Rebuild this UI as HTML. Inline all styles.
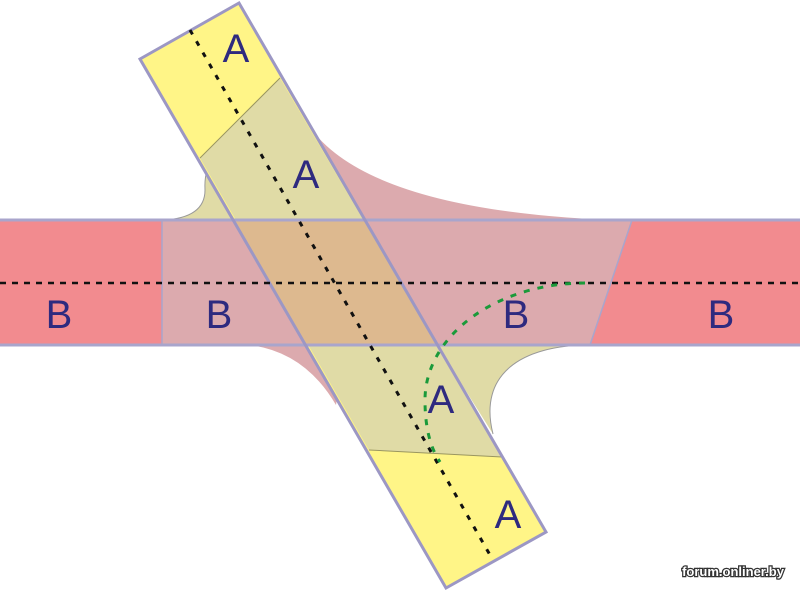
<!DOCTYPE html>
<html><head><style>body{margin:0;background:#fff}svg{display:block}</style></head><body>
<svg width="800" height="592" viewBox="0 0 800 592" xmlns="http://www.w3.org/2000/svg">
<defs>
<clipPath id="a"><polygon points="140,59 239,3 546,532 446,588"/></clipPath>
</defs>
<rect x="0" y="220" width="800" height="125" fill="#f28b8f"/>
<polygon points="162,220 632,220 590,345 162,345" fill="#dcaaae"/>
<path d="M298,104 Q340,212 632,220 L330,220 Z" fill="#dcaaae"/>
<path d="M250,345 Q305,352 336,405 L345,345 Z" fill="#dcaaae"/>
<path d="M163,220 Q205,218 205,190 Q204,172 212,158 L235,220 Z" fill="#e0dba6"/>
<path d="M437,345 L590,345 C520,345 478,375 493,434 Z" fill="#e0dba6"/>
<path d="M298,104 Q340,212 632,220" fill="none" stroke="#fff" stroke-width="1.5"/>
<path d="M163,220 Q205,218 205,190 Q204,172 212,158" fill="none" stroke="#999" stroke-width="1"/>
<path d="M590,345 C520,345 478,375 493,434" fill="none" stroke="#999" stroke-width="1"/>
<polygon points="140,59 239,3 546,532 446,588" fill="#fff587"/>
<polygon points="200,158 280,78 502,457 369,450" fill="#e0dba6" clip-path="url(#a)"/>
<polygon points="162,220 632,220 590,345 162,345" fill="#ddb98f" clip-path="url(#a)"/>
<line x1="200" y1="158" x2="280" y2="78" stroke="#9a9660" stroke-width="1"/>
<line x1="369" y1="450" x2="502" y2="457" stroke="#9a9660" stroke-width="1"/>
<line x1="0" y1="220" x2="800" y2="220" stroke="#a9a5cc" stroke-width="3"/>
<line x1="0" y1="345" x2="800" y2="345" stroke="#a9a5cc" stroke-width="3"/>
<line x1="162" y1="220" x2="162" y2="345" stroke="#a9a5cc" stroke-width="1.5"/>
<line x1="632" y1="220" x2="590" y2="345" stroke="#a9a5cc" stroke-width="1.5"/>
<polygon points="140,59 239,3 546,532 446,588" fill="none" stroke="#9c97c4" stroke-width="3"/>
<line x1="0" y1="283" x2="800" y2="283" stroke="#111" stroke-width="2.5" stroke-dasharray="6,6"/>
<line x1="190" y1="30" x2="490" y2="555" stroke="#111" stroke-width="3" stroke-dasharray="5,8"/>
<path d="M585,283 A160,117 0 0 0 425,400 Q425,440 440,462" fill="none" stroke="#1a9a3a" stroke-width="3" stroke-dasharray="6,8"/>
<g font-family="Liberation Sans, sans-serif" font-size="40" fill="#2e2a7f" text-anchor="middle">
<text x="236" y="62">A</text><text x="306" y="188">A</text><text x="441" y="413">A</text><text x="508" y="528">A</text>
<text x="59" y="328">B</text><text x="219" y="328">B</text><text x="516" y="328">B</text><text x="721" y="328">B</text>
</g>
<text x="733" y="576" font-family="Liberation Sans, sans-serif" font-size="13" font-weight="bold" fill="#fff" stroke="#333" stroke-width="2.5" paint-order="stroke" text-anchor="middle">forum.onliner.by</text>
</svg>
</body></html>
